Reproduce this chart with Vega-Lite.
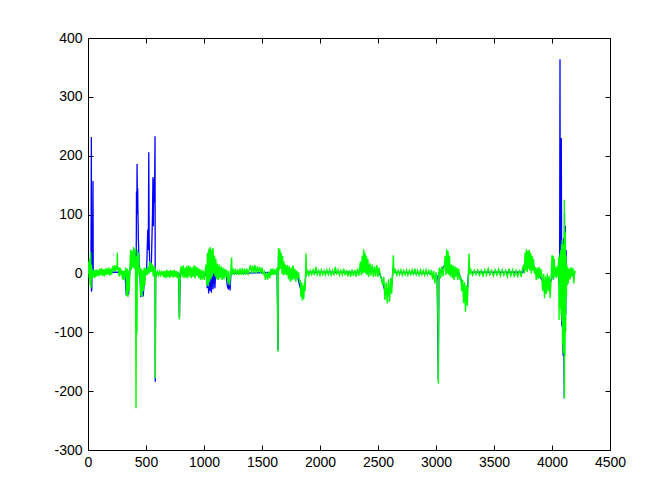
{
"$schema": "https://vega.github.io/schema/vega-lite/v6.json",
"width": 522, "height": 412,
"autosize": {"type": "none"},
"padding": {"left": 88, "top": 38, "right": 62, "bottom": 54},
"background": "white",
"config": {
  "view": {"stroke": "#000000", "strokeWidth": 1},
  "axis": {"grid": false, "domain": false, "tickColor": "#000000", "tickSize": -5, "labelColor": "#000000", "labelFont": "Liberation Sans", "labelFontSize": 14, "title": null, "labelExpr": "'' + datum.value"}
},
"datasets": {
"blue": [
{"x":0,"y":2},{"x":20,"y":2},{"x":25,"y":-10},{"x":27,"y":90},{"x":29,"y":232},{"x":30,"y":-31},{"x":31,"y":88},{"x":33,"y":-28},{"x":35,"y":60},{"x":38,"y":5},{"x":41,"y":90},{"x":43,"y":157},{"x":45,"y":5},{"x":50,"y":2},{"x":300,"y":2},{"x":320,"y":-5},{"x":330,"y":-37},{"x":340,"y":-20},{"x":350,"y":-36},{"x":360,"y":5},{"x":375,"y":20},{"x":390,"y":25},{"x":400,"y":30},{"x":410,"y":35},{"x":414,"y":-60},{"x":418,"y":139},{"x":421,"y":100},{"x":423,"y":186},{"x":425,"y":139},{"x":428,"y":145},{"x":431,"y":100},{"x":434,"y":60},{"x":440,"y":20},{"x":448,"y":0},{"x":455,"y":-40},{"x":465,"y":-20},{"x":475,"y":-39},{"x":485,"y":-15},{"x":492,"y":0},{"x":505,"y":2},{"x":515,"y":74},{"x":520,"y":40},{"x":524,"y":206},{"x":527,"y":60},{"x":532,"y":10},{"x":545,"y":5},{"x":556,"y":100},{"x":560,"y":164},{"x":563,"y":80},{"x":567,"y":160},{"x":571,"y":120},{"x":575,"y":164},{"x":578,"y":233},{"x":580,"y":-184},{"x":583,"y":3},{"x":600,"y":0},{"x":780,"y":0},{"x":788,"y":-75},{"x":795,"y":0},{"x":1010,"y":-3},{"x":1020,"y":10},{"x":1028,"y":-25},{"x":1034,"y":15},{"x":1040,"y":-34},{"x":1046,"y":20},{"x":1052,"y":-30},{"x":1058,"y":25},{"x":1064,"y":-33},{"x":1070,"y":15},{"x":1078,"y":-27},{"x":1086,"y":10},{"x":1094,"y":-25},{"x":1102,"y":10},{"x":1110,"y":0},{"x":1190,"y":0},{"x":1200,"y":-20},{"x":1210,"y":-27},{"x":1218,"y":-10},{"x":1225,"y":-29},{"x":1232,"y":0},{"x":1630,"y":2},{"x":1638,"y":-130},{"x":1642,"y":30},{"x":1680,"y":15},{"x":1720,"y":2},{"x":1800,"y":0},{"x":1830,"y":-25},{"x":1850,"y":-30},{"x":1870,"y":-25},{"x":1880,"y":10},{"x":1890,"y":2},{"x":2340,"y":2},{"x":2380,"y":20},{"x":2410,"y":15},{"x":2430,"y":5},{"x":2510,"y":3},{"x":2540,"y":-15},{"x":2560,"y":-30},{"x":2580,"y":-35},{"x":2600,"y":-30},{"x":2618,"y":-20},{"x":2632,"y":10},{"x":2640,"y":2},{"x":2960,"y":0},{"x":2990,"y":-8},{"x":3010,"y":-5},{"x":3020,"y":-180},{"x":3025,"y":0},{"x":3080,"y":15},{"x":3100,"y":20},{"x":3120,"y":5},{"x":3200,"y":0},{"x":3230,"y":-20},{"x":3254,"y":-40},{"x":3270,"y":-30},{"x":3280,"y":0},{"x":3295,"y":2},{"x":3750,"y":2},{"x":3770,"y":20},{"x":3800,"y":22},{"x":3840,"y":15},{"x":3855,"y":0},{"x":3880,"y":0},{"x":3910,"y":-10},{"x":3940,"y":-20},{"x":3970,"y":-20},{"x":3997,"y":-10},{"x":4010,"y":10},{"x":4030,"y":5},{"x":4055,"y":0},{"x":4062,"y":-20},{"x":4066,"y":30},{"x":4069,"y":364},{"x":4071,"y":50},{"x":4074,"y":230},{"x":4077,"y":-10},{"x":4080,"y":230},{"x":4083,"y":40},{"x":4085,"y":-90},{"x":4088,"y":50},{"x":4092,"y":-100},{"x":4096,"y":-140},{"x":4100,"y":60},{"x":4103,"y":-138},{"x":4106,"y":-212},{"x":4108,"y":102},{"x":4111,"y":-67},{"x":4115,"y":80},{"x":4118,"y":-70},{"x":4122,"y":40},{"x":4126,"y":-20},{"x":4135,"y":0},{"x":4195,"y":0}
],
"green": [
{"x":0,"y":0},{"x":5,"y":20},{"x":10,"y":-8},{"x":14,"y":25},{"x":18,"y":-20},{"x":22,"y":36},{"x":26,"y":-25},{"x":30,"y":15},{"x":34,"y":-10},{"x":38,"y":8},{"x":44,"y":-6},{"x":50,"y":5},{"x":56,"y":-8},{"x":62,"y":6},{"x":68,"y":-6},{"x":74,"y":7},{"x":80,"y":-4},{"x":86,"y":5},{"x":92,"y":-5},
{"x":100,"y":8},{"x":108,"y":-3},{"x":116,"y":9},{"x":124,"y":-4},{"x":132,"y":7},{"x":140,"y":-5},{"x":148,"y":8},{"x":156,"y":-3},{"x":164,"y":9},{"x":172,"y":-2},{"x":180,"y":10},{"x":188,"y":-4},{"x":196,"y":8},{"x":204,"y":-2},{"x":212,"y":12},
{"x":220,"y":4},{"x":228,"y":14},{"x":236,"y":3},{"x":244,"y":13},{"x":250,"y":6},{"x":253,"y":35},{"x":256,"y":5},{"x":262,"y":11},{"x":268,"y":-5},{"x":276,"y":10},{"x":284,"y":-3},{"x":290,"y":6},
{"x":296,"y":-10},{"x":302,"y":5},{"x":308,"y":-11},{"x":314,"y":4},{"x":320,"y":-5},{"x":326,"y":10},{"x":332,"y":-38},{"x":338,"y":8},{"x":344,"y":-40},{"x":350,"y":5},{"x":356,"y":-30},{"x":362,"y":10},
{"x":368,"y":40},{"x":374,"y":6},{"x":380,"y":38},{"x":386,"y":10},{"x":392,"y":45},{"x":398,"y":8},{"x":404,"y":42},{"x":410,"y":12},{"x":414,"y":-229},{"x":418,"y":30},{"x":422,"y":-102},{"x":426,"y":40},{"x":430,"y":-5},{"x":436,"y":35},{"x":442,"y":0},
{"x":448,"y":10},{"x":454,"y":-38},{"x":460,"y":8},{"x":466,"y":-40},{"x":472,"y":5},{"x":478,"y":-30},{"x":484,"y":10},{"x":490,"y":-20},{"x":496,"y":9},{"x":502,"y":-3},{"x":508,"y":8},{"x":514,"y":-2},{"x":520,"y":12},
{"x":526,"y":0},{"x":532,"y":20},{"x":538,"y":2},{"x":544,"y":18},{"x":550,"y":3},{"x":556,"y":15},{"x":562,"y":-5},{"x":568,"y":12},{"x":574,"y":-2},{"x":578,"y":10},{"x":580,"y":-178},{"x":584,"y":3},
{"x":592,"y":-3},{"x":600,"y":3},{"x":608,"y":-3},{"x":616,"y":3},{"x":624,"y":-3},{"x":632,"y":3},{"x":640,"y":-2},{"x":648,"y":4},
{"x":656,"y":-7},{"x":664,"y":5},{"x":672,"y":-8},{"x":680,"y":6},{"x":688,"y":-6},{"x":696,"y":4},{"x":704,"y":-8},{"x":712,"y":6},{"x":720,"y":-5},{"x":728,"y":5},{"x":736,"y":-7},{"x":744,"y":6},{"x":752,"y":-6},{"x":760,"y":4},
{"x":768,"y":-8},{"x":776,"y":3},{"x":782,"y":-6},{"x":788,"y":-78},{"x":792,"y":-20},{"x":796,"y":5},
{"x":804,"y":12},{"x":812,"y":-6},{"x":820,"y":14},{"x":828,"y":-8},{"x":836,"y":10},{"x":844,"y":-7},{"x":850,"y":12},
{"x":858,"y":-8},{"x":866,"y":14},{"x":874,"y":-5},{"x":882,"y":12},{"x":890,"y":-8},{"x":898,"y":10},{"x":906,"y":-6},{"x":914,"y":14},{"x":922,"y":-8},{"x":930,"y":12},{"x":938,"y":-4},{"x":946,"y":10},{"x":954,"y":-8},{"x":962,"y":8},
{"x":970,"y":-11},{"x":978,"y":6},{"x":986,"y":-10},{"x":994,"y":5},{"x":1002,"y":-11},{"x":1010,"y":4},
{"x":1018,"y":15},{"x":1024,"y":-20},{"x":1030,"y":35},{"x":1036,"y":-22},{"x":1042,"y":42},{"x":1048,"y":-15},{"x":1054,"y":45},{"x":1060,"y":-10},{"x":1066,"y":40},{"x":1072,"y":-5},{"x":1078,"y":43},{"x":1084,"y":0},{"x":1090,"y":30},{"x":1096,"y":-5},{"x":1102,"y":25},{"x":1108,"y":-10},
{"x":1116,"y":17},{"x":1124,"y":-11},{"x":1132,"y":15},{"x":1140,"y":-8},{"x":1148,"y":12},{"x":1156,"y":-11},{"x":1164,"y":10},{"x":1172,"y":-10},{"x":1180,"y":8},{"x":1188,"y":-6},{"x":1196,"y":6},{"x":1204,"y":-15},{"x":1212,"y":4},{"x":1220,"y":-20},{"x":1230,"y":0},{"x":1238,"y":27},{"x":1242,"y":-2},
{"x":1250,"y":8},{"x":1260,"y":-3},{"x":1270,"y":8},{"x":1280,"y":-2},{"x":1290,"y":7},{"x":1300,"y":-3},{"x":1310,"y":8},{"x":1320,"y":-2},{"x":1330,"y":9},{"x":1340,"y":-3},{"x":1350,"y":8},{"x":1360,"y":-2},{"x":1370,"y":8},{"x":1380,"y":-3},{"x":1390,"y":7},
{"x":1400,"y":14},{"x":1410,"y":0},{"x":1420,"y":13},{"x":1430,"y":1},{"x":1440,"y":14},{"x":1450,"y":0},{"x":1460,"y":12},{"x":1470,"y":2},{"x":1480,"y":11},{"x":1490,"y":0},{"x":1500,"y":10},{"x":1510,"y":-1},
{"x":1520,"y":3},{"x":1530,"y":-11},{"x":1540,"y":2},{"x":1550,"y":-10},{"x":1560,"y":3},{"x":1568,"y":-8},
{"x":1576,"y":8},{"x":1584,"y":-3},{"x":1592,"y":8},{"x":1600,"y":-3},{"x":1608,"y":7},{"x":1616,"y":-2},{"x":1624,"y":6},{"x":1632,"y":10},{"x":1638,"y":-133},{"x":1642,"y":43},{"x":1648,"y":5},{"x":1654,"y":41},{"x":1660,"y":8},{"x":1666,"y":35},{"x":1672,"y":0},{"x":1678,"y":30},{"x":1684,"y":-3},{"x":1690,"y":20},{"x":1696,"y":-2},{"x":1704,"y":15},{"x":1712,"y":-3},
{"x":1720,"y":14},{"x":1728,"y":-10},{"x":1736,"y":12},{"x":1744,"y":-14},{"x":1752,"y":10},{"x":1760,"y":-12},{"x":1768,"y":14},{"x":1776,"y":-10},{"x":1784,"y":8},{"x":1792,"y":-14},{"x":1800,"y":5},{"x":1808,"y":-8},{"x":1816,"y":2},{"x":1824,"y":-15},
{"x":1830,"y":-11},{"x":1836,"y":-40},{"x":1842,"y":-15},{"x":1848,"y":-46},{"x":1854,"y":-20},{"x":1860,"y":-44},{"x":1866,"y":-15},{"x":1872,"y":-30},{"x":1880,"y":34},{"x":1884,"y":-5},
{"x":1892,"y":6},{"x":1904,"y":-3},{"x":1916,"y":5},{"x":1928,"y":-2},{"x":1940,"y":6},{"x":1952,"y":-3},{"x":1964,"y":11},{"x":1976,"y":-2},{"x":1988,"y":5},{"x":2000,"y":-3},{"x":2012,"y":6},{"x":2024,"y":-2},{"x":2036,"y":5},{"x":2048,"y":-3},{"x":2060,"y":6},{"x":2072,"y":-2},{"x":2084,"y":6},{"x":2096,"y":-3},{"x":2108,"y":5},{"x":2120,"y":-3},{"x":2132,"y":11},{"x":2144,"y":-2},{"x":2156,"y":6},{"x":2168,"y":-3},{"x":2180,"y":5},{"x":2192,"y":-2},{"x":2204,"y":8},{"x":2216,"y":-3},{"x":2228,"y":6},{"x":2240,"y":-5},{"x":2252,"y":5},{"x":2264,"y":-6},{"x":2276,"y":7},{"x":2288,"y":-4},{"x":2300,"y":6},{"x":2312,"y":-6},{"x":2324,"y":8},{"x":2336,"y":-4},
{"x":2348,"y":20},{"x":2356,"y":-3},{"x":2364,"y":30},{"x":2370,"y":0},{"x":2376,"y":41},{"x":2382,"y":2},{"x":2388,"y":35},{"x":2394,"y":0},{"x":2400,"y":30},{"x":2406,"y":-3},{"x":2412,"y":25},
{"x":2420,"y":-6},{"x":2430,"y":17},{"x":2440,"y":-4},{"x":2450,"y":15},{"x":2460,"y":-6},{"x":2470,"y":12},{"x":2480,"y":-5},{"x":2490,"y":14},{"x":2500,"y":-6},{"x":2510,"y":10},
{"x":2520,"y":-5},{"x":2530,"y":-8},{"x":2540,"y":-20},{"x":2550,"y":-6},{"x":2560,"y":-45},{"x":2570,"y":-15},{"x":2580,"y":-51},{"x":2590,"y":-10},{"x":2600,"y":-48},{"x":2610,"y":-8},{"x":2618,"y":-35},{"x":2626,"y":0},{"x":2632,"y":31},{"x":2638,"y":0},
{"x":2650,"y":6},{"x":2662,"y":-3},{"x":2674,"y":5},{"x":2686,"y":-2},{"x":2698,"y":6},{"x":2710,"y":-3},{"x":2722,"y":5},{"x":2734,"y":-2},{"x":2746,"y":6},{"x":2758,"y":-3},{"x":2770,"y":5},{"x":2782,"y":-2},{"x":2794,"y":6},{"x":2806,"y":-3},{"x":2818,"y":8},{"x":2830,"y":-2},{"x":2842,"y":5},{"x":2854,"y":-3},{"x":2866,"y":6},{"x":2878,"y":-2},{"x":2890,"y":5},{"x":2902,"y":-3},{"x":2914,"y":6},{"x":2926,"y":-2},{"x":2938,"y":5},{"x":2950,"y":-3},
{"x":2960,"y":6},{"x":2970,"y":-10},{"x":2980,"y":4},{"x":2990,"y":-17},{"x":3000,"y":2},{"x":3010,"y":-12},{"x":3018,"y":-96},{"x":3020,"y":-187},{"x":3023,"y":-5},
{"x":3030,"y":10},{"x":3040,"y":-8},{"x":3050,"y":12},{"x":3060,"y":-5},{"x":3070,"y":10},{"x":3080,"y":30},{"x":3086,"y":-3},{"x":3092,"y":41},{"x":3098,"y":0},{"x":3104,"y":38},{"x":3110,"y":-2},{"x":3116,"y":30},
{"x":3124,"y":-5},{"x":3132,"y":15},{"x":3140,"y":-8},{"x":3148,"y":14},{"x":3156,"y":-11},{"x":3164,"y":12},{"x":3172,"y":-6},{"x":3180,"y":10},{"x":3188,"y":-11},{"x":3196,"y":8},{"x":3204,"y":-10},
{"x":3212,"y":-5},{"x":3222,"y":-30},{"x":3230,"y":-11},{"x":3238,"y":-50},{"x":3246,"y":-15},{"x":3254,"y":-65},{"x":3262,"y":-20},{"x":3270,"y":-55},{"x":3278,"y":-10},{"x":3285,"y":34},{"x":3290,"y":-2},
{"x":3300,"y":6},{"x":3315,"y":-3},{"x":3330,"y":5},{"x":3345,"y":-2},{"x":3360,"y":6},{"x":3375,"y":-3},{"x":3390,"y":5},{"x":3405,"y":-4},{"x":3420,"y":6},{"x":3435,"y":-3},{"x":3450,"y":8},{"x":3465,"y":-2},{"x":3480,"y":5},{"x":3495,"y":-4},{"x":3510,"y":6},{"x":3525,"y":-3},{"x":3540,"y":7},{"x":3555,"y":-4},{"x":3570,"y":6},{"x":3585,"y":-3},{"x":3600,"y":5},{"x":3615,"y":-5},{"x":3630,"y":8},{"x":3645,"y":-4},{"x":3660,"y":6},{"x":3675,"y":-6},{"x":3690,"y":5},{"x":3705,"y":-5},{"x":3720,"y":6},{"x":3735,"y":-6},{"x":3745,"y":8},
{"x":3756,"y":15},{"x":3762,"y":0},{"x":3768,"y":35},{"x":3774,"y":5},{"x":3780,"y":41},{"x":3786,"y":2},{"x":3792,"y":38},{"x":3798,"y":8},{"x":3804,"y":40},{"x":3810,"y":5},{"x":3816,"y":35},{"x":3822,"y":0},{"x":3828,"y":30},{"x":3834,"y":5},{"x":3840,"y":25},{"x":3848,"y":0},
{"x":3856,"y":11},{"x":3864,"y":-11},{"x":3872,"y":10},{"x":3880,"y":-10},{"x":3888,"y":11},{"x":3896,"y":-8},{"x":3904,"y":8},
{"x":3912,"y":-5},{"x":3920,"y":-30},{"x":3928,"y":0},{"x":3936,"y":-42},{"x":3944,"y":-5},{"x":3952,"y":-35},{"x":3960,"y":0},{"x":3968,"y":-30},{"x":3976,"y":-5},{"x":3984,"y":-42},{"x":3992,"y":-10},
{"x":4000,"y":31},{"x":4005,"y":-6},{"x":4010,"y":30},{"x":4015,"y":-11},{"x":4020,"y":25},{"x":4026,"y":-6},{"x":4032,"y":10},{"x":4038,"y":-8},{"x":4044,"y":12},{"x":4050,"y":-5},{"x":4054,"y":10},
{"x":4058,"y":28},{"x":4061,"y":-79},{"x":4064,"y":20},{"x":4067,"y":-40},{"x":4070,"y":34},{"x":4073,"y":-60},{"x":4076,"y":40},{"x":4079,"y":-70},{"x":4082,"y":50},{"x":4085,"y":-80},{"x":4088,"y":57},{"x":4091,"y":-120},{"x":4094,"y":50},{"x":4097,"y":-136},{"x":4100,"y":40},{"x":4103,"y":-130},{"x":4106,"y":125},{"x":4107,"y":-212},{"x":4109,"y":77},{"x":4112,"y":-140},{"x":4115,"y":70},{"x":4118,"y":-100},{"x":4121,"y":30},{"x":4124,"y":-40},{"x":4127,"y":15},{"x":4130,"y":-20},
{"x":4135,"y":11},{"x":4140,"y":-17},{"x":4148,"y":8},{"x":4156,"y":-10},{"x":4164,"y":11},{"x":4172,"y":-5},{"x":4180,"y":9},{"x":4188,"y":-17},{"x":4196,"y":5},{"x":4200,"y":0}
]
},
"layer": [
  {
    "data": {"name": "blue"},
    "mark": {"type": "line", "color": "#0000ff", "strokeWidth": 1.3, "clip": true},
    "encoding": {
      "x": {"field": "x", "type": "quantitative", "scale": {"domain": [0, 4500], "nice": false, "zero": false},
            "axis": {"orient": "bottom", "values": [0,500,1000,1500,2000,2500,3000,3500,4000,4500], "labelPadding": 10, "labelFlush": false}},
      "y": {"field": "y", "type": "quantitative", "scale": {"domain": [-300, 400], "nice": false, "zero": false},
            "axis": {"orient": "left", "values": [-300,-200,-100,0,100,200,300,400], "labelPadding": 11}}
    }
  },
  {
    "data": {"name": "green"},
    "mark": {"type": "line", "color": "#00ff00", "strokeWidth": 1.4, "clip": true},
    "encoding": {
      "x": {"field": "x", "type": "quantitative",
            "axis": {"orient": "top", "values": [0,500,1000,1500,2000,2500,3000,3500,4000,4500], "labels": false}},
      "y": {"field": "y", "type": "quantitative",
            "axis": {"orient": "right", "values": [-300,-200,-100,0,100,200,300,400], "labels": false}}
    }
  }
],
"resolve": {"axis": {"x": "independent", "y": "independent"}}
}
